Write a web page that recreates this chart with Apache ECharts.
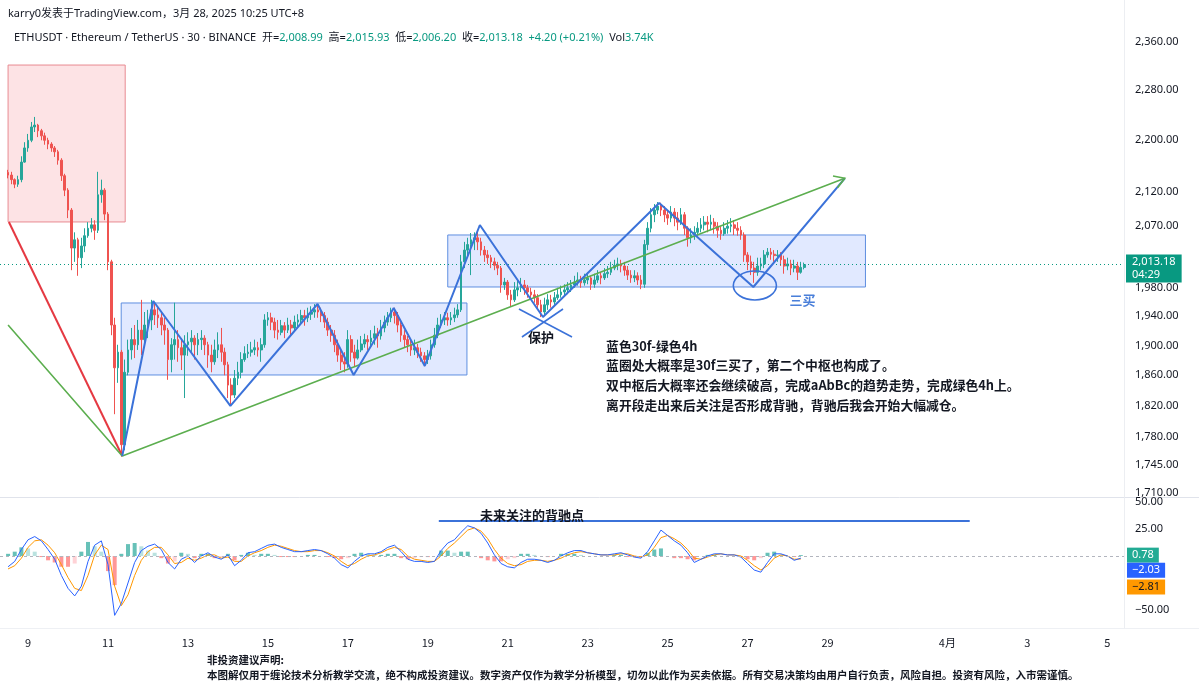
<!DOCTYPE html>
<html><head><meta charset="utf-8">
<script src="https://cdn.jsdelivr.net/npm/echarts@6/dist/echarts.min.js"></script>
<style>html,body{margin:0;padding:0;background:#fff}#c{width:1199px;height:685px}</style>
</head><body><div id="c"></div>
<script>
// ---------- DATA (times are days of March 2025, UTC+8) ----------
const candleStartDay = 8.5;      // Mar 8 12:00
const candleStepDays = 1 / 12;   // 2h candles
const firstOpen = 2150;
const closes = [2146,2139,2132,2139,2166,2188,2200,2221,2224,2215,
2207,2200,2194,2188,2182,2169,2145,2123,2093,2037,
2049,2023,2040,2055,2066,2071,2063,2116,2123,2087,
2017,1928,1870,1891,1770,1864,1894,1908,1901,1921,
1908,1928,1935,1949,1942,1938,1928,1921,1881,1901,
1908,1897,1887,1901,1905,1910,1901,1908,1910,1901,
1887,1878,1894,1901,1891,1874,1847,1834,1856,1864,
1881,1889,1891,1894,1897,1894,1901,1935,1938,1932,
1921,1918,1927,1921,1928,1924,1932,1935,1941,1938,
1943,1946,1949,1946,1941,1932,1921,1914,1901,1887,
1878,1875,1908,1891,1883,1894,1902,1908,1905,1910,
1916,1913,1924,1932,1938,1946,1941,1928,1914,1908,
1901,1894,1897,1891,1886,1881,1886,1901,1914,1928,
1935,1938,1935,1938,1942,1949,2017,2034,2042,2049,
2052,2046,2034,2027,2023,2017,2012,2008,1984,1988,
1970,1963,1977,1980,1984,1980,1974,1970,1966,1956,
1946,1956,1963,1960,1966,1970,1974,1977,1980,1984,
1988,1991,1987,1991,1994,1985,1991,1997,1994,2000,
2002,2008,2012,2014,2011,2005,1998,1994,1997,1991,
1985,2042,2066,2086,2093,2099,2093,2086,2081,2090,
2081,2075,2086,2066,2052,2056,2060,2066,2071,2075,
2072,2075,2069,2063,2058,2066,2069,2071,2066,2063,
2056,2027,2017,2008,2002,2011,2014,2027,2031,2028,
2026,2027,2020,2011,2014,2008,2011,2002,2008.99,2013.18];
const highs = [2154,2151,2141,2145,2175,2197,2210,2229,2237,2226,
2218,2212,2204,2197,2191,2185,2172,2148,2126,2096,
2060,2052,2052,2066,2075,2081,2078,2151,2139,2126,
2090,2020,1938,1901,1894,1881,1908,1924,1928,1935,
1963,1946,1949,1963,1959,1952,1946,1938,1924,1910,
1959,1921,1910,1914,1918,1921,1914,1917,1921,1914,
1905,1901,1908,1918,1924,1897,1878,1856,1867,1878,
1891,1899,1902,1905,1908,1905,1910,1943,1946,1945,
1938,1935,1935,1932,1938,1935,1941,1943,1949,1949,
1952,1954,1957,1956,1952,1946,1938,1928,1921,1908,
1894,1891,1921,1914,1901,1908,1913,1916,1914,1921,
1927,1924,1935,1941,1946,1952,1952,1946,1932,1921,
1913,1908,1908,1902,1897,1891,1894,1908,1924,1938,
1943,1946,1945,1946,1952,1957,2027,2046,2052,2059,
2060,2063,2052,2040,2034,2027,2023,2017,2011,1994,
1991,1977,1988,1991,1994,1991,1984,1980,1977,1971,
1963,1966,1971,1970,1974,1980,1983,1985,1988,1991,
1997,2002,1997,2000,2002,1997,2000,2005,2002,2008,
2011,2017,2020,2023,2020,2017,2011,2005,2005,2002,
1998,2049,2075,2096,2102,2105,2104,2099,2093,2099,
2096,2090,2096,2090,2069,2066,2069,2075,2081,2084,
2084,2086,2081,2075,2069,2075,2078,2081,2078,2075,
2069,2060,2031,2026,2017,2023,2023,2034,2037,2037,
2034,2034,2031,2026,2023,2020,2020,2017,2017,2015.93];
const lows = [2141,2132,2126,2128,2135,2165,2182,2197,2213,2205,
2200,2193,2186,2182,2174,2162,2137,2114,2081,2005,
2017,1997,2008,2031,2052,2060,2049,2059,2104,2078,
2005,1914,1809,1850,1755,1763,1860,1881,1883,1894,
1887,1897,1910,1921,1928,1924,1914,1901,1854,1864,
1881,1878,1867,1830,1886,1891,1881,1887,1894,1887,
1870,1864,1874,1883,1878,1860,1830,1822,1830,1847,
1856,1878,1883,1885,1887,1885,1878,1897,1927,1921,
1910,1908,1914,1910,1917,1914,1921,1924,1928,1927,
1932,1935,1938,1938,1932,1924,1913,1905,1891,1878,
1867,1864,1870,1878,1872,1881,1891,1897,1894,1899,
1901,1897,1908,1918,1927,1932,1930,1918,1905,1897,
1891,1886,1887,1883,1878,1872,1875,1881,1897,1910,
1924,1928,1927,1928,1932,1938,1946,2008,2023,1998,
2034,2034,2026,2017,2014,2008,2005,1998,1973,1977,
1963,1953,1960,1968,1974,1970,1966,1963,1959,1949,
1939,1941,1949,1952,1956,1963,1966,1968,1971,1974,
1980,1983,1980,1983,1985,1977,1980,1987,1985,1991,
1994,1998,2005,2005,2002,1997,1991,1987,1988,1984,
1978,1980,2034,2060,2075,2087,2084,2075,2071,2075,
2069,2063,2071,2056,2039,2044,2049,2055,2060,2063,
2060,2063,2058,2052,2049,2055,2058,2060,2056,2055,
2049,2017,2005,1998,1987,1997,2005,2008,2023,2020,
2017,2017,2011,2000,2005,1998,2002,1991,2000,2006.20];

const macdStartDay = 8.5;
const macdStepDays = 1 / 6;      // 4h samples
const difValues = [-10,-5,6,15,18,14,6,-3,-18,-30,
-37,-28,-5,10,14,-8,-55,-44,-25,-6,
5,9,11,6,-6,-12,-3,0,-6,0,
3,-1,-3,1,-9,-4,3,4,7,10,
11,8,6,4,4,5,6,5,2,-2,
-8,-11,-5,0,2,2,4,8,10,4,
-3,-5,-5,-6,-5,5,12,15,22,28,
26,21,12,1,-7,-10,-11,-6,-3,-3,
-4,-6,-4,0,3,5,5,3,2,1,
1,2,3,1,-1,-2,4,14,24,19,
14,10,3,-6,-3,0,2,2,1,1,
-1,-7,-13,-15,-6,2,2,0,-4,-2.03];
const deaValues = [-12,-9,-2,8,14,15,10,3,-8,-20,
-30,-32,-18,1,10,6,-28,-46,-36,-18,
-4,4,8,8,1,-7,-6,-2,-4,-2,
1,1,-2,-1,-5,-5,0,3,5,8,
10,9,7,5,4,4,5,5,3,0,
-5,-9,-7,-3,0,1,3,6,8,6,
0,-3,-4,-5,-5,0,7,12,18,24,
26,23,16,6,-2,-7,-9,-8,-5,-4,
-4,-5,-4,-2,1,3,4,3,2,1,
1,1,2,2,0,-1,1,8,17,19,
16,12,6,-2,-3,-1,1,2,1,1,
0,-4,-9,-13,-9,-2,1,0,-3,-2.81];
const histValues = [2,4,8,7,4,-1,-4,-6,-10,-10,
-7,4,13,9,4,-14,-27,2,11,12,
9,5,3,-2,-7,-5,3,2,-2,2,
2,-2,-1,2,-4,1,3,1,2,2,
1,-1,-1,-1,0,1,1,0,-1,-2,
-3,-2,2,3,2,1,1,2,2,-2,
-3,-2,-1,-1,0,5,5,3,4,4,
0,-2,-4,-5,-5,-3,-2,2,2,1,
0,-1,0,2,2,2,1,0,0,0,
0,1,1,-1,-1,-1,3,6,7,0,
-2,-2,-3,-4,0,1,1,0,0,0,
-1,-3,-4,-2,3,4,1,0,-1,0.78];

const lastPrice = 2013.18, countdown = '04:29';
const lastHist = 0.78, lastDif = -2.03, lastDea = -2.81;

const priceTicks = [2360,2280,2200,2120,2070,2020,1980,1940,1900,1860,1820,1780,1745,1710];
const macdTicks = [50,25,-50];
const dayTicks = [9,11,13,15,17,19,21,23,25,27,29,32,34,36];

// drawings: [day, price]
const redBox   = [8.50, 11.43, 2321.5, 2075.3];
const blueBox1 = [11.33, 19.98, 1958.6, 1860.4];
const blueBox2 = [19.50, 29.95, 2056.1, 1981.1];
const redLine  = [[8.52, 2075.3], [11.356, 1755.8]];
const greenLine = [[8.50, 1928.1], [11.356, 1755.8], [29.433, 2141.1]];
const blueZigzag = [[11.356,1755.8],[12.133,1961.4],[14.062,1819.7],[16.243,1957.2],[17.145,1860.4],
  [18.148,1951.6],[18.925,1872.4],[20.303,2070.8],[21.882,1939.1],[24.789,2103.6],[27.145,1981.1],[29.433,2141.1]];
const protectCross = [[21.281,1950.2,22.609,1911.6],[22.383,1950.2,21.356,1911.6]];
const buyEllipse = [26.644, 27.722, 2003.9, 1962.8];
const macdGuide = [19.276, 32.558, 32.4];

const noteLines = ['蓝色30f-绿色4h',
  '蓝圈处大概率是30f三买了，第二个中枢也构成了。',
  '双中枢后大概率还会继续破高，完成aAbBc的趋势走势，完成绿色4h上。',
  '离开段走出来后关注是否形成背驰，背驰后我会开始大幅减仓。'];
const noteAnchor = [23.461, 1913.0];
const protectLabel = ['保护', 21.832, 1911.6];
const buyLabel = ['三买', 28.373, 1962.8];
const macdNote = ['未来关注的背驰点', 21.606, 38.0];

// ---------- CHART ----------
const FONT = '"Noto Sans", "Noto Sans CJK SC", sans-serif';
const CJK = '"Noto Sans CJK SC", "Noto Sans", sans-serif';
const X_MIN = 8.298, X_MAX = 36.418;

const candleData = closes.map((c, i) => [candleStartDay + i * candleStepDays, i === 0 ? firstOpen : closes[i - 1], c, lows[i], highs[i]]);
const difData = difValues.map((v, j) => [macdStartDay + j * macdStepDays, v]);
const deaData = deaValues.map((v, j) => [macdStartDay + j * macdStepDays, v]);
const histData = histValues.map((v, j) => {
  const prev = j > 0 ? histValues[j - 1] : v;
  let col;
  if (v >= 0) col = v >= prev ? 'rgba(38,166,154,0.7)' : 'rgba(178,223,219,0.9)';
  else col = v <= prev ? 'rgba(255,82,82,0.6)' : 'rgba(255,205,210,0.9)';
  return { value: [macdStartDay + j * macdStepDays, v], itemStyle: { color: col } };
});

function fmtPrice(v) {
  return Number(v).toLocaleString('en-US', { minimumFractionDigits: 2, maximumFractionDigits: 2 });
}
function fmtSigned(v) {
  return (v < 0 ? '\u2212' : '') + Math.abs(v).toFixed(2);
}

function boxSeries(box, fill, stroke) {
  return {
    type: 'custom', xAxisIndex: 0, yAxisIndex: 0, z: 1, silent: true,
    encode: { x: [0, 1], y: [2, 3] },
    data: [box],
    renderItem: (params, api) => {
      const a = api.coord([api.value(0), api.value(2)]);
      const b = api.coord([api.value(1), api.value(3)]);
      return { type: 'rect', shape: { x: Math.min(a[0], b[0]), y: Math.min(a[1], b[1]), width: Math.abs(b[0] - a[0]), height: Math.abs(b[1] - a[1]) },
        style: { fill: fill, stroke: stroke, lineWidth: 1 } };
    }
  };
}
function segSeries(segs, color, width, xi, yi) {
  return {
    type: 'custom', xAxisIndex: xi, yAxisIndex: yi, z: 5, silent: true,
    encode: { x: [0, 2], y: [1, 3] },
    data: segs,
    renderItem: (params, api) => {
      const a = api.coord([api.value(0), api.value(1)]);
      const b = api.coord([api.value(2), api.value(3)]);
      return { type: 'line', shape: { x1: a[0], y1: a[1], x2: b[0], y2: b[1] }, style: { stroke: color, lineWidth: width } };
    }
  };
}
function polySeries(pts, color, width) {
  return { type: 'line', xAxisIndex: 0, yAxisIndex: 0, data: pts, showSymbol: false, symbol: 'none', silent: true, z: 5,
    lineStyle: { color: color, width: width }, animation: false };
}
function textSeries(label, xi, yi, style) {
  return {
    type: 'custom', xAxisIndex: xi, yAxisIndex: yi, z: 10, silent: true,
    encode: { x: 0, y: 1 },
    data: [[label[1], label[2]]],
    renderItem: (params, api) => {
      const p = api.coord([api.value(0), api.value(1)]);
      return { type: 'text', x: p[0], y: p[1], style: Object.assign({ text: label[0], align: 'center', verticalAlign: 'middle' }, style) };
    }
  };
}
function tagItem(value, text, bg, fg, dy) {
  return { yAxis: value, lineStyle: { color: 'rgba(0,0,0,0)', width: 0 },
    label: { show: true, position: 'end', distance: 3, offset: [0, dy], formatter: text, backgroundColor: bg, color: fg,
      fontSize: 11, fontFamily: FONT, padding: [2, 5, 2, 5] } };
}

const last = greenLine[greenLine.length - 1], prevG = greenLine[greenLine.length - 2];

const option = {
  animation: false,
  backgroundColor: '#ffffff',
  grid: [
    { left: 0, right: 75, top: 0, height: 497 },
    { left: 0, right: 75, top: 498, height: 130 }
  ],
  xAxis: [
    { type: 'value', gridIndex: 0, min: X_MIN, max: X_MAX, axisLine: { show: false }, axisTick: { show: false }, axisLabel: { show: false }, splitLine: { show: false } },
    { type: 'value', gridIndex: 1, min: X_MIN, max: X_MAX, axisLine: { show: false }, axisTick: { show: false }, splitLine: { show: false },
      axisLabel: { show: true, customValues: dayTicks, color: '#131722', fontSize: 11, fontFamily: CJK, margin: 9,
        formatter: v => v <= 31 ? String(v) : (v === 32 ? '4月' : String(v - 31)) } }
  ],
  yAxis: [
    { type: 'log', logBase: 10, gridIndex: 0, position: 'right', min: 1705.1, max: 2431.9,
      axisLine: { show: true, lineStyle: { color: '#eceef2' } }, axisTick: { show: false }, splitLine: { show: false },
      axisLabel: { customValues: priceTicks, color: '#131722', fontSize: 11, fontFamily: FONT, margin: 11, formatter: fmtPrice } },
    { type: 'value', gridIndex: 1, position: 'right', min: -66.7, max: 53.7,
      axisLine: { show: true, lineStyle: { color: '#eceef2' } }, axisTick: { show: false }, splitLine: { show: false },
      axisLabel: { customValues: macdTicks, color: '#131722', fontSize: 11, fontFamily: FONT, margin: 11, formatter: fmtSigned } }
  ],
  series: [
    boxSeries(redBox, 'rgba(242,54,69,0.14)', '#e88a91'),
    boxSeries(blueBox1, 'rgba(41,98,255,0.14)', '#5f8fe0'),
    boxSeries(blueBox2, 'rgba(41,98,255,0.14)', '#5f8fe0'),
    {
      type: 'candlestick', xAxisIndex: 0, yAxisIndex: 0, z: 3,
      data: candleData, encode: { x: 0, y: [1, 2, 3, 4] }, barWidth: 2.2,
      itemStyle: { color: '#26a69a', color0: '#ef5350', borderColor: '#26a69a', borderColor0: '#ef5350', borderWidth: 1 },
      markLine: {
        silent: true, symbol: 'none', animation: false,
        lineStyle: { type: [1, 3], color: '#089981', width: 1 },
        label: { show: true, position: 'end', distance: 2, offset: [0, 4], formatter: fmtPrice(lastPrice) + '\n' + countdown,
          backgroundColor: '#089981', color: '#ffffff', fontSize: 11, fontFamily: FONT, lineHeight: 13, padding: [1, 6, 1, 6], align: 'left' },
        data: [{ yAxis: lastPrice }]
      }
    },
    polySeries(redLine, '#e53942', 2),
    polySeries(greenLine, '#5cae4f', 1.6),
    polySeries(blueZigzag, '#3b72d9', 2),
    segSeries(protectCross, '#3b72d9', 1.6, 0, 0),
    {
      type: 'custom', xAxisIndex: 0, yAxisIndex: 0, z: 6, silent: true,
      encode: { x: [0, 2], y: [1, 3] },
      data: [[prevG[0], prevG[1], last[0], last[1]]],
      renderItem: (params, api) => {
        const a = api.coord([api.value(0), api.value(1)]);
        const b = api.coord([api.value(2), api.value(3)]);
        const ang = Math.atan2(b[1] - a[1], b[0] - a[0]);
        const L = 12, s = 0.55;
        const p1 = [b[0] - L * Math.cos(ang - s), b[1] - L * Math.sin(ang - s)];
        const p2 = [b[0] - L * Math.cos(ang + s), b[1] - L * Math.sin(ang + s)];
        return { type: 'polyline', shape: { points: [p1, b, p2] }, style: { stroke: '#5cae4f', lineWidth: 1.6, fill: null } };
      }
    },
    {
      type: 'custom', xAxisIndex: 0, yAxisIndex: 0, z: 6, silent: true,
      encode: { x: [0, 1], y: [2, 3] },
      data: [buyEllipse],
      renderItem: (params, api) => {
        const a = api.coord([api.value(0), api.value(2)]);
        const b = api.coord([api.value(1), api.value(3)]);
        return { type: 'ellipse', shape: { cx: (a[0] + b[0]) / 2, cy: (a[1] + b[1]) / 2, rx: Math.abs(b[0] - a[0]) / 2, ry: Math.abs(b[1] - a[1]) / 2 },
          style: { stroke: '#3b72d9', lineWidth: 1.6, fill: null } };
      }
    },
    textSeries(protectLabel, 0, 0, { fill: '#131722', font: 'bold 13px ' + CJK }),
    textSeries(buyLabel, 0, 0, { fill: '#4a7fd9', font: 'bold 13px ' + CJK }),
    {
      type: 'custom', xAxisIndex: 0, yAxisIndex: 0, z: 10, silent: true,
      encode: { x: 0, y: 1 },
      data: [noteAnchor],
      renderItem: (params, api) => {
        const p = api.coord([api.value(0), api.value(1)]);
        return { type: 'text', x: p[0], y: p[1], style: { text: noteLines.join('\n'), fill: '#131722', font: 'bold 12.8px ' + CJK, lineHeight: 19.7, align: 'left', verticalAlign: 'top' } };
      }
    },
    // MACD pane
    {
      type: 'bar', xAxisIndex: 1, yAxisIndex: 1, data: histData, barWidth: 4, silent: true, z: 2,
      markLine: {
        silent: true, symbol: 'none', animation: false,
        lineStyle: { type: [3, 3], color: '#b2b5be', width: 1 },
        label: { show: false },
        data: [
          { yAxis: 0 },
          tagItem(lastHist, fmtSigned(lastHist), '#22ab94', '#ffffff', 0),
          tagItem(lastDif, fmtSigned(lastDif), '#2962ff', '#ffffff', 12),
          tagItem(lastDea, fmtSigned(lastDea), '#ff9800', '#131722', 28)
        ]
      }
    },
    {
      type: 'line', xAxisIndex: 1, yAxisIndex: 1, data: difData, showSymbol: false, symbol: 'none', silent: true, z: 4,
      lineStyle: { color: '#2962ff', width: 1 }
    },
    { type: 'line', xAxisIndex: 1, yAxisIndex: 1, data: deaData, showSymbol: false, symbol: 'none', silent: true, z: 3,
      lineStyle: { color: '#ff9800', width: 1 } },
    segSeries([[macdGuide[0], macdGuide[2], macdGuide[1], macdGuide[2]]], '#3b72d9', 2, 1, 1),
    textSeries(macdNote, 1, 1, { fill: '#131722', font: 'bold 13px ' + CJK })
  ],
  graphic: [
    { type: 'line', silent: true, shape: { x1: 0, y1: 497.5, x2: 1199, y2: 497.5 }, style: { stroke: '#e0e3eb', lineWidth: 1 } },
    { type: 'line', silent: true, shape: { x1: 0, y1: 628.5, x2: 1199, y2: 628.5 }, style: { stroke: '#eef0f4', lineWidth: 1 } },
    { type: 'text', left: 8, top: 8, silent: true, style: { text: 'karry0发表于TradingView.com，3月 28, 2025 10:25 UTC+8', fill: '#131722', font: '11px ' + FONT } },
    { type: 'text', left: 14, top: 32, silent: true, style: {
      text: '{k|ETHUSDT · Ethereum / TetherUS · 30 · BINANCE  开=}{v|2,008.99}{k|  高=}{v|2,015.93}{k|  低=}{v|2,006.20}{k|  收=}{v|2,013.18}{v|  +4.20 (+0.21%)}{k|  Vol}{v|3.74K}',
      rich: { k: { fill: '#131722', fontSize: 11, fontFamily: FONT }, v: { fill: '#089981', fontSize: 11, fontFamily: FONT } } } },
    { type: 'text', left: 207, top: 655, silent: true, style: { text: '非投资建议声明:', fill: '#131722', font: 'bold 10.5px ' + CJK } },
    { type: 'text', left: 207, top: 670, silent: true, style: { text: '本图解仅用于缠论技术分析教学交流，绝不构成投资建议。数字资产仅作为教学分析模型，切勿以此作为买卖依据。所有交易决策均由用户自行负责，风险自担。投资有风险，入市需谨慎。', fill: '#131722', font: 'bold 10.5px ' + CJK } }
  ]
};

const chart = echarts.init(document.getElementById('c'), null, { renderer: 'canvas' });
chart.setOption(option);
</script>
</body></html>
